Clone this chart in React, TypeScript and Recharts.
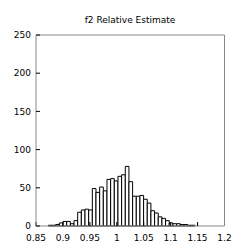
import React from 'react';
import { ComposedChart, Bar, XAxis, YAxis } from 'recharts';

// histogram bin centres (bin width ~0.0068) and counts
const binCenters = [
  0.8764, 0.8832, 0.89, 0.8968, 0.9036, 0.9104, 0.9172, 0.924, 0.9308, 0.9376,
  0.9444, 0.9512, 0.958, 0.9648, 0.9716, 0.9784, 0.9852, 0.992, 0.9988, 1.0056,
  1.0124, 1.0192, 1.026, 1.0328, 1.0396, 1.0464, 1.0532, 1.06, 1.0668, 1.0736,
  1.0804, 1.0872, 1.094, 1.1008, 1.1076, 1.1144, 1.1212, 1.128, 1.1348, 1.1416,
];
const counts = [
  1, 1, 2, 4, 6, 6, 3, 7, 18, 21,
  22, 21, 49, 44, 51, 46, 61, 62, 59, 65,
  67, 78, 58, 39, 39, 40, 35, 30, 20, 17,
  12, 10, 7, 4, 3, 3, 2, 2, 1, 1,
];
const xTicks = [0.85, 0.9, 0.95, 1, 1.05, 1.1, 1.15, 1.2];
const yTicks = [0, 50, 100, 150, 200, 250];

const data = binCenters.map((x, i) => ({ x, count: counts[i] }));

const tickFont = { fontFamily: 'DejaVu Sans', fontSize: 9, fill: '#000' };
const frame = { stroke: '#888' };
const tickLine = { stroke: '#000' };

export default function App() {
  return (
    <div style={{ position: 'absolute', left: 0, top: 0, width: 241, height: 249, background: '#fff' }}>
      <div
        style={{
          position: 'absolute',
          left: 36,
          width: 188,
          top: 15,
          textAlign: 'center',
          fontFamily: 'DejaVu Sans',
          fontSize: 9,
          lineHeight: '10px',
          color: '#000',
        }}
      >
        f2 Relative Estimate
      </div>
      <ComposedChart
        width={241}
        height={249}
        data={data}
        margin={{ top: 35, right: 16.5, left: 0, bottom: 3 }}
        barCategoryGap={0}
        barGap={0}
      >
        <XAxis
          xAxisId="bottom"
          dataKey="x"
          type="number"
          domain={[0.85, 1.2]}
          ticks={xTicks}
          allowDataOverflow
          height={20}
          tickSize={-4}
          tickMargin={13}
          tick={tickFont}
          axisLine={frame}
          tickLine={tickLine}
        />
        <XAxis
          xAxisId="top"
          orientation="top"
          dataKey="x"
          type="number"
          domain={[0.85, 1.2]}
          ticks={xTicks}
          allowDataOverflow
          mirror
          tick={false}
          tickSize={4}
          axisLine={frame}
          tickLine={tickLine}
        />
        <YAxis
          yAxisId="left"
          type="number"
          domain={[0, 250]}
          ticks={yTicks}
          width={36}
          tickSize={-4}
          tickMargin={9}
          tick={tickFont}
          axisLine={frame}
          tickLine={tickLine}
        />
        <YAxis
          yAxisId="right"
          orientation="right"
          type="number"
          domain={[0, 250]}
          ticks={yTicks}
          mirror
          tick={false}
          tickSize={4}
          axisLine={frame}
          tickLine={tickLine}
        />
        <Bar
          xAxisId="top"
          yAxisId="right"
          dataKey="count"
          barSize={3.65}
          fill="none"
          stroke="none"
          isAnimationActive={false}
        />
        <Bar
          xAxisId="bottom"
          yAxisId="left"
          dataKey="count"
          barSize={3.65}
          fill="#fff"
          stroke="#000"
          strokeWidth={1}
          isAnimationActive={false}
        />
      </ComposedChart>
    </div>
  );
}
